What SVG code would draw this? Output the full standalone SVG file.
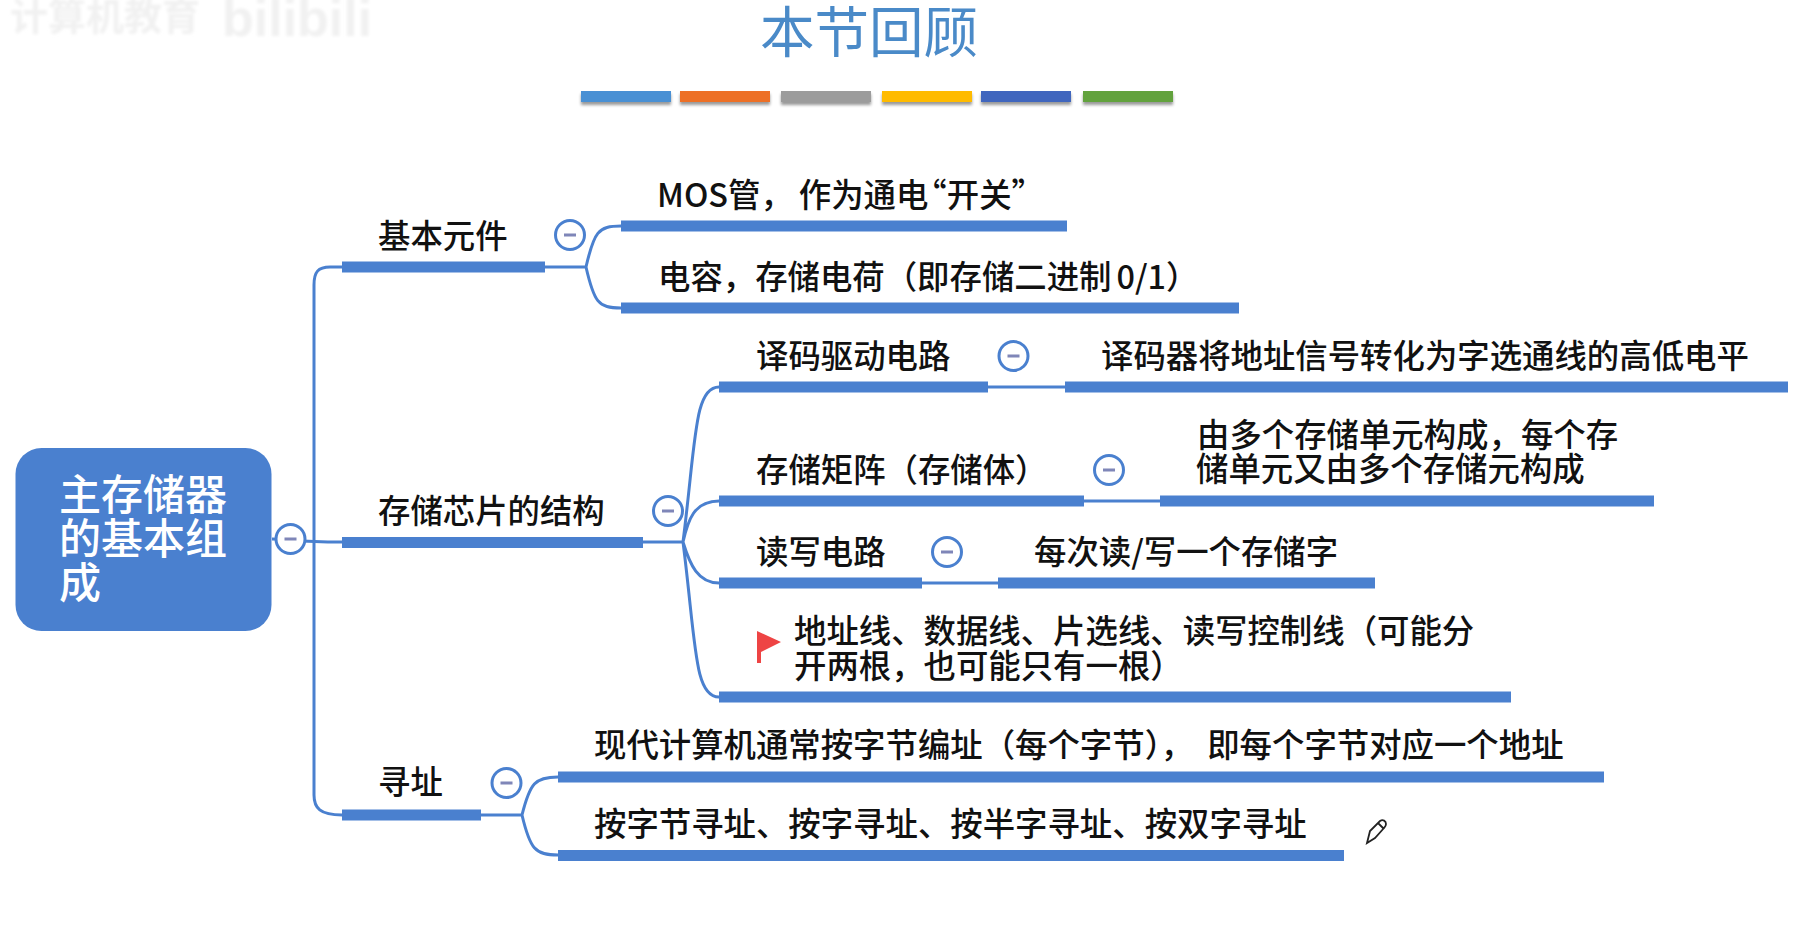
<svg xmlns="http://www.w3.org/2000/svg" width="1812" height="931" viewBox="0 0 1812 931">
<defs>
<style>
text{font-family:"Noto Sans CJK SC","Noto Sans",sans-serif;fill:#111;font-size:32.400px;font-weight:500}
.bar{fill:#4a80cf}
.c{fill:none;stroke:#4a80cf;stroke-width:3}
.ring{fill:#fff;stroke:#4a80cf;stroke-width:3}
.dash{fill:#7f86b8}
.sb{filter:url(#sh)}
.r{fill:#fff;font-size:42px}
</style>
<filter id="sh" x="-5%" y="-30%" width="110%" height="190%"><feDropShadow dx="0" dy="3" stdDeviation="1.500" flood-color="#000" flood-opacity=".4"/></filter>
<filter id="bl"><feGaussianBlur stdDeviation="1.800"/></filter>
<g id="minus"><circle class="ring" r="14.500"/><rect class="dash" x="-6" y="-1.500" width="12" height="3"/></g>
</defs>
<rect width="1812" height="931" fill="#fff"/>
<g id="watermark" filter="url(#bl)"><text x="10" y="30" style="fill:#f1f1f1;font-size:38px;font-weight:700">计算机教育</text><text x="222" y="36" style="fill:#f1f1f1;font-size:52px;font-weight:700;font-family:'Liberation Sans',sans-serif">bilibili</text></g>
<text id="title" x="760" y="52" style="fill:#4a8ac8;font-size:54.500px;font-weight:400">本节回顾</text>
<g id="colorbars" class="sb">
<rect x="581" y="91" width="90" height="11" fill="#4a90d4"/>
<rect x="680" y="91" width="90" height="11" fill="#ed7028"/>
<rect x="781" y="91" width="90" height="11" fill="#9c9c9c"/>
<rect x="882" y="91" width="90" height="11" fill="#ffbb00"/>
<rect x="981" y="91" width="90" height="11" fill="#3f66be"/>
<rect x="1083" y="91" width="90" height="11" fill="#62a23c"/>
</g>
<g id="connectors">
<path class="c" d="M272 539C290 539 295 542 342 542"/>
<path class="c" d="M342 267H330C318 267 314 272 314 285V795C314 808 320 815 342 815"/>
<path class="c" d="M545 267H586M586 267C594 232 598 226 621 226M586 267C594 302 598 308 621 308"/>
<path class="c" d="M643 542H683M683 542C696 440 694 387 719 387M683 542C688 520 694 501 719 501M683 542C690 565 698 583 719 583M683 542C696 644 694 697 719 697"/>
<path class="c" d="M481 815H522M522 815C530 783 535 777 558 777M522 815C530 849 535 855 558 855"/>
<path class="c" d="M988 387H1065M1084 501H1160M922 583H998"/>
</g>
<g id="root"><rect x="15.500" y="448" width="256" height="183" rx="26" fill="#4a80cf"/>
<text class="r" x="59" y="510">主存储器</text>
<text class="r" x="59" y="554">的基本组</text>
<text class="r" x="59" y="598">成</text>
<use href="#minus" x="290.500" y="539"/></g>
<g id="n-basic"><rect class="bar" x="342" y="261.500" width="203" height="11"/><text x="378" y="248">基本元件</text><use href="#minus" x="570" y="235"/></g>
<g id="n-mos"><rect class="bar" x="621" y="220.500" width="446" height="11"/><text x="657" y="207">MOS管，<tspan dx="6">作为通电</tspan><tspan dx="-14">“开关”</tspan></text></g>
<g id="n-cap"><rect class="bar" x="621" y="302.500" width="618" height="11"/><text x="658" y="289">电容，存储电荷（即存储二进制<tspan dx="5">0/1）</tspan></text></g>
<g id="n-struct"><rect class="bar" x="342" y="537" width="301" height="11"/><text x="378" y="523">存储芯片的结构</text><use href="#minus" x="668" y="511"/></g>
<g id="n-decode"><rect class="bar" x="719" y="381.500" width="269" height="11"/><text x="756" y="368">译码驱动电路</text><use href="#minus" x="1013.500" y="356"/></g>
<g id="n-decode-d"><rect class="bar" x="1065" y="381.500" width="723" height="11"/><text x="1101" y="368">译码器将地址信号转化为字选通线的高低电平</text></g>
<g id="n-matrix"><rect class="bar" x="719" y="495.500" width="365" height="11"/><text x="756" y="482">存储矩阵（存储体）</text><use href="#minus" x="1109" y="470"/></g>
<g id="n-matrix-d"><rect class="bar" x="1160" y="495.500" width="494" height="11"/><text x="1197" y="447">由多个存储单元构成，每个存</text><text x="1196" y="481">储单元又由多个存储元构成</text></g>
<g id="n-rw"><rect class="bar" x="719" y="577.500" width="203" height="11"/><text x="756" y="564">读写电路</text><use href="#minus" x="947" y="552"/></g>
<g id="n-rw-d"><rect class="bar" x="998" y="577.500" width="377" height="11"/><text x="1034" y="564">每次读/写一个存储字</text></g>
<g id="n-lines"><rect class="bar" x="719" y="691.500" width="792" height="11"/><path d="M757 631L781 642L761 652V663H757Z" fill="#ee4444"/><text x="794" y="643">地址线、数据线、片选线、读写控制线（可能分</text><text x="794" y="678">开两根，也可能只有一根）</text></g>
<g id="n-addr"><rect class="bar" x="342" y="809.500" width="139" height="11"/><text x="378" y="794">寻址</text><use href="#minus" x="506.500" y="783"/></g>
<g id="n-addr-1"><rect class="bar" x="558" y="771.500" width="1046" height="11"/><text x="594" y="757">现代计算机通常按字节编址（每个字节），<tspan dx="14">即每个字节对应一个地址</tspan></text></g>
<g id="n-addr-2"><rect class="bar" x="558" y="850" width="786" height="11"/><text x="594" y="836">按字节寻址、按字寻址、按半字寻址、按双字寻址</text></g>
<path id="pencil" d="M1367 843L1370 831L1380 821C1383 819 1386 821 1386 824C1386 826 1385 827 1384 828L1375 838ZM1378 823L1384 829" fill="#fff" stroke="#222" stroke-width="1.800"/>
</svg>
